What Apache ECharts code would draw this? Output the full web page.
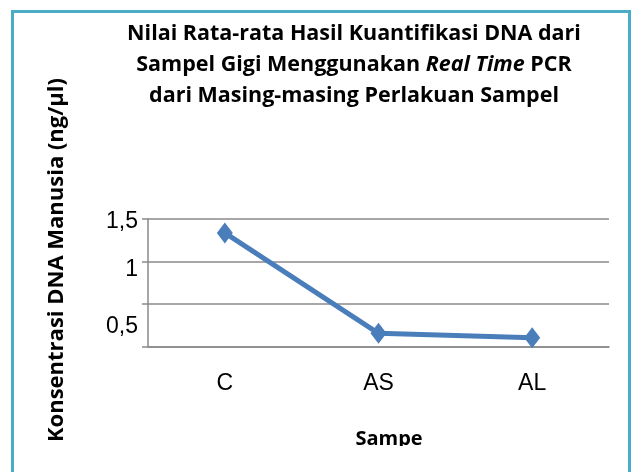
<!DOCTYPE html>
<html>
<head>
<meta charset="utf-8">
<script src="https://cdn.jsdelivr.net/npm/echarts@6/dist/echarts.min.js"></script>
<style>
html,body{margin:0;padding:0;background:#fff;}
#chart{width:633px;height:472px;}
</style>
</head>
<body>
<div id="chart"></div>
<script>
const categories = ['C', 'AS', 'AL'];
const values = [1.336, 0.155, 0.103];
const yTickValues = [0, 0.5, 1, 1.5];
const yTickLabels = ['', '0,5', '1', '1,5'];
const titleLines = [
  'Nilai Rata-rata Hasil Kuantifikasi DNA dari',
  'Sampel Gigi Menggunakan {i|Real Time} PCR',
  'dari Masing-masing Perlakuan Sampel'
];
const yAxisName = 'Konsentrasi DNA Manusia (ng/µl)';
const xAxisName = 'Sampe';

const labelShift = {'1,5': 'a', '1': 'b', '0,5': 'c'};
const boldFont = 'Open Sans';

const chart = echarts.init(document.getElementById('chart'), null, {renderer: 'canvas'});
chart.setOption({
  animation: false,
  backgroundColor: '#ffffff',
  title: {
    text: titleLines.join('\n'),
    left: 354,
    top: 18,
    padding: 0,
    textAlign: 'center',
    textStyle: {
      fontFamily: boldFont,
      fontWeight: 'bold',
      fontSize: 21.5,
      lineHeight: 31,
      color: '#000',
      rich: {
        i: {fontFamily: boldFont, fontWeight: 'bold', fontStyle: 'italic', fontSize: 21.5, lineHeight: 31, color: '#000'}
      }
    }
  },
  grid: {left: 148, right: 24, top: 219, bottom: 125.5, containLabel: false},
  xAxis: {
    type: 'category',
    data: categories,
    boundaryGap: true,
    axisLine: {lineStyle: {color: '#8a8a8a', width: 1.5}},
    axisTick: {show: false},
    axisLabel: {
      margin: 26,
      fontFamily: 'Liberation Sans',
      fontSize: 23,
      color: '#000'
    }
  },
  yAxis: {
    type: 'value',
    min: 0,
    max: 1.5,
    interval: 0.5,
    axisLine: {show: true, lineStyle: {color: '#8a8a8a', width: 1.5}},
    axisTick: {show: true, length: 6, lineStyle: {color: '#8a8a8a', width: 1.5}},
    splitLine: {lineStyle: {color: '#8a8a8a', width: 1.5}},
    axisLabel: {
      margin: 10,
      fontFamily: 'Liberation Sans',
      fontSize: 23,
      color: '#000',
      formatter: function (v) {
        const idx = yTickValues.findIndex(t => Math.abs(t - v) < 1e-9);
        const lab = idx >= 0 ? yTickLabels[idx] : '';
        if (!lab) return '';
        return '{' + labelShift[lab] + '|' + lab + '}';
      },
      rich: {
        a: {fontFamily: 'Liberation Sans', fontSize: 23, color: '#000', padding: [6, 0, 0, 0]},
        b: {fontFamily: 'Liberation Sans', fontSize: 23, color: '#000', padding: [16, 0, 0, 0]},
        c: {fontFamily: 'Liberation Sans', fontSize: 23, color: '#000', padding: [46, 0, 0, 0]}
      }
    }
  },
  series: [{
    type: 'line',
    data: values,
    symbol: 'diamond',
    symbolSize: [16, 21],
    lineStyle: {color: '#4A7EBB', width: 5},
    itemStyle: {color: '#4A7EBB'}
  }],
  graphic: [
    {
      type: 'text',
      x: 57,
      y: 260,
      rotation: Math.PI / 2,
      style: {
        text: yAxisName,
        fontFamily: boldFont,
        fontWeight: 'bold',
        fontSize: 22,
        fill: '#000',
        align: 'center',
        verticalAlign: 'middle'
      }
    },
    {
      type: 'text',
      x: 389,
      y: 439,
      z: 10,
      style: {
        text: xAxisName,
        fontFamily: boldFont,
        fontWeight: 'bold',
        fontSize: 20,
        fill: '#000',
        align: 'center',
        verticalAlign: 'middle'
      }
    },
    {
      type: 'rect',
      z: 20,
      shape: {x: 16, y: 446, width: 612, height: 30},
      style: {fill: '#ffffff'}
    },
    {
      type: 'rect',
      z: 30,
      shape: {x: 12.5, y: 11.5, width: 617, height: 520},
      style: {fill: 'none', stroke: '#4BACC6', lineWidth: 3}
    }
  ]
});
</script>
</body>
</html>
